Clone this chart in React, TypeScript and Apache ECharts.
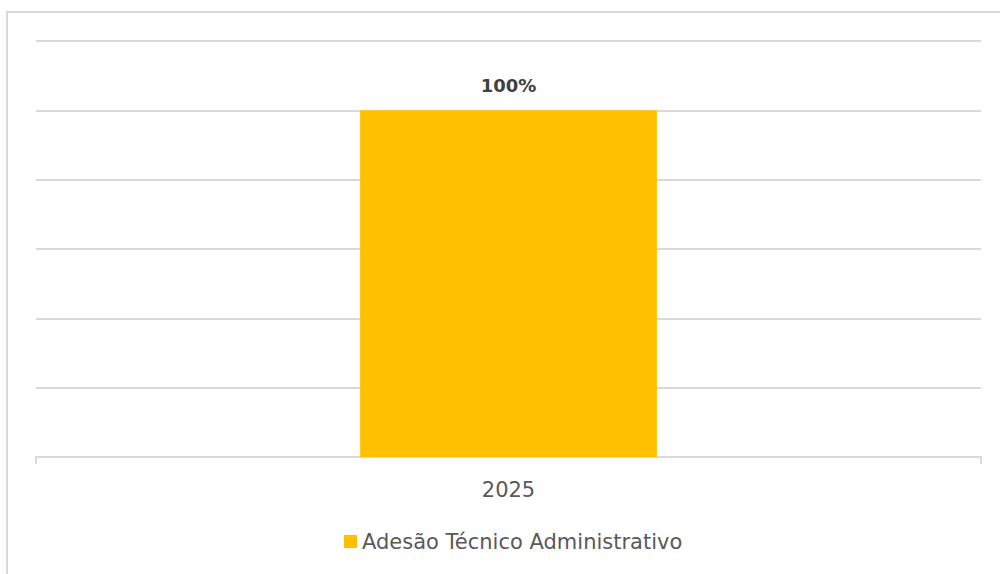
import React, { useEffect, useRef } from "react";
import * as echarts from "echarts";

const categories = ["2025"];
const seriesName = "Adesão Técnico Administrativo";
const values = [1.0];
const yMin = 0;
const yMax = 1.2;
const yInterval = 0.2;

export default function App() {
  const ref = useRef<HTMLDivElement>(null);
  useEffect(() => {
    if (!ref.current) return;
    const chart = echarts.init(ref.current, undefined, { renderer: "svg" });
    const font = "'DejaVu Sans', 'Noto Sans', sans-serif";
    chart.setOption({
      animation: false,
      backgroundColor: "#ffffff",
      graphic: [
        {
          type: "rect",
          shape: { x: 7, y: 12, width: 1100, height: 1000 },
          style: { fill: "none", stroke: "#d9d9d9", lineWidth: 2 },
          silent: true,
        },
      ],
      grid: { left: 36, right: 19, top: 41, bottom: 117 },
      xAxis: {
        type: "category",
        data: categories,
        axisLine: { lineStyle: { color: "#d9d9d9", width: 2 } },
        axisTick: { show: true, length: 7, lineStyle: { color: "#d9d9d9", width: 2 } },
        axisLabel: { color: "#595959", fontSize: 21, fontFamily: font, margin: 22 },
      },
      yAxis: {
        type: "value",
        min: yMin,
        max: yMax,
        interval: yInterval,
        axisLabel: { show: false },
        axisLine: { show: false },
        axisTick: { show: false },
        splitLine: { lineStyle: { color: "#d9d9d9", width: 2 } },
      },
      legend: {
        bottom: 17,
        left: 339,
        itemWidth: 13,
        itemHeight: 13,
        icon: "rect",
        itemGap: 5,
        textStyle: { color: "#595959", fontSize: 21, fontFamily: font },
        data: [seriesName],
      },
      series: [
        {
          name: seriesName,
          type: "bar",
          data: values,
          barWidth: "31.4%",
          itemStyle: { color: "#FFC000" },
          label: {
            show: true,
            position: "top",
            distance: 16,
            color: "#404040",
            fontWeight: "bold",
            fontSize: 18,
            fontFamily: font,
            formatter: (p: any) => Math.round(p.value * 100) + "%",
          },
        },
      ],
    });
    return () => chart.dispose();
  }, []);
  return (
    <div
      ref={ref}
      style={{ position: "fixed", left: 0, top: 0, width: 1000, height: 574 }}
    />
  );
}
